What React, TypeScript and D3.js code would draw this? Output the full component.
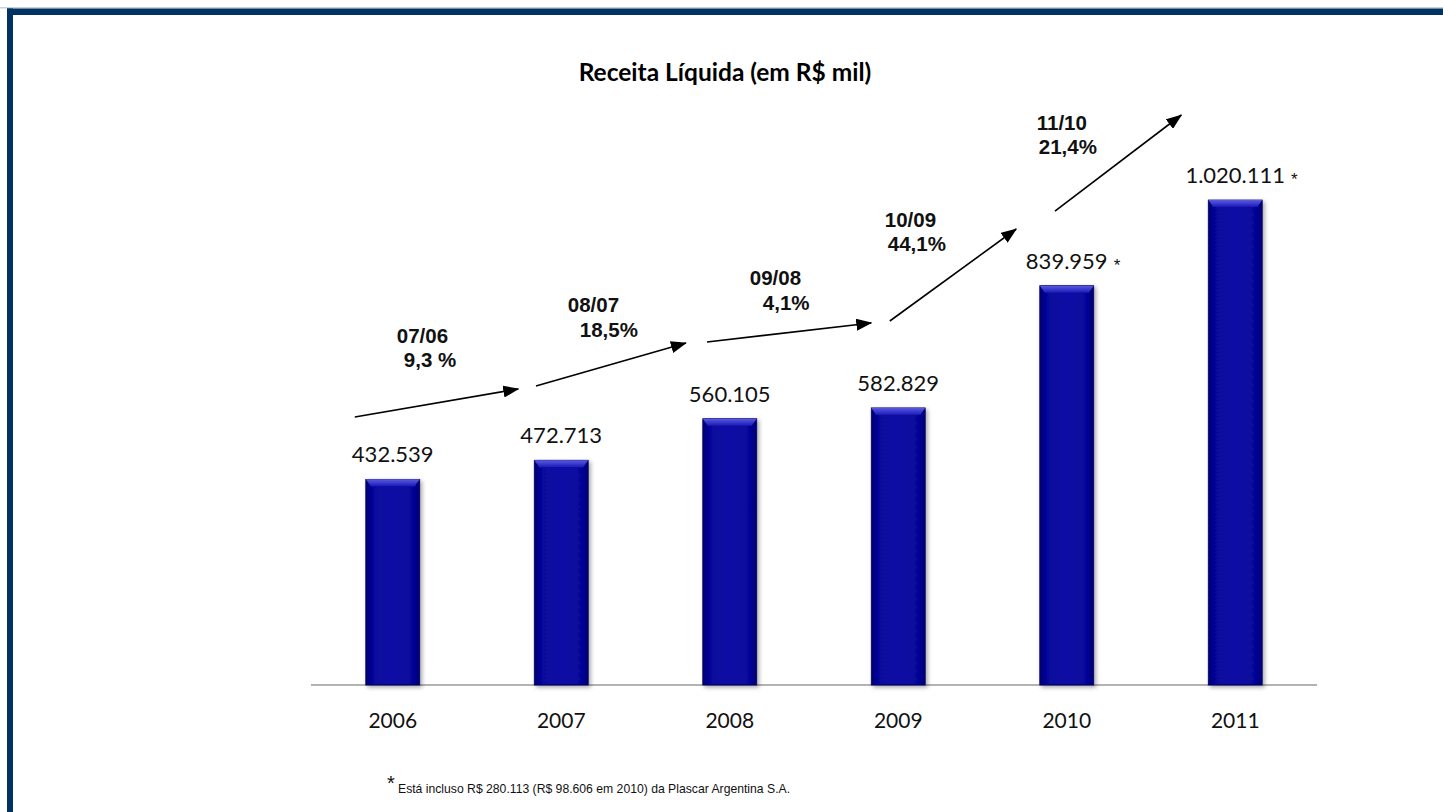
import React, { useEffect, useRef } from "react";
import * as d3 from "d3";

const years = ["2006", "2007", "2008", "2009", "2010", "2011"];
const values = [432539, 472713, 560105, 582829, 839959, 1020111];
const valueLabels = ["432.539", "472.713", "560.105", "582.829", "839.959", "1.020.111"];
const hasStar = [false, false, false, false, true, true];

const growthPeriods = ["07/06", "08/07", "09/08", "10/09", "11/10"];
const growthRates = [" 9,3 %", " 18,5%", " 4,1%", " 44,1%", " 21,4%"];
// arrow endpoints: [bar index, offset in steps, value level]
const arrowStart: [number, number, number][] = [
  [0, -0.225, 563700],
  [1, -0.15, 629000],
  [2, -0.135, 721500],
  [3, -0.05, 765700],
  [4, -0.07, 997000],
];
const arrowEnd: [number, number, number][] = [
  [1, -0.255, 622600],
  [2, -0.26, 719400],
  [3, -0.16, 761500],
  [4, -0.3, 959200],
  [5, -0.32, 1199000],
];
// label anchors: [bar index, offset in steps, value level line1, value level line2, indent]
const labelPos: [number, number, number, number, number][] = [
  [0, 0.024, 719400, 668900, 7],
  [1, 0.039, 784600, 732000, 12],
  [2, 0.119, 841400, 788800, 13],
  [3, -0.08, 963400, 912900, 3],
  [4, -0.178, 1167400, 1116900, 2],
];

const title = "Receita Líquida (em R$ mil)";
const footnote = "Está incluso R$ 280.113 (R$ 98.606 em 2010) da Plascar Argentina S.A.";

export default function App() {
  const ref = useRef<SVGSVGElement>(null);

  useEffect(() => {
    const svg = d3.select(ref.current);
    svg.selectAll("*").remove();

    const W = 1443, H = 812;
    const x = d3.scaleBand<string>().domain(years).range([308.5, 1319.5]).paddingInner(0.68).paddingOuter(0.34);
    const y = d3.scaleLinear().domain([0, 1200000]).range([685, 685 - 1200000 * 0.0004754]);
    const step = x.step();
    const cx = (i: number) => (x(years[i]) as number) + x.bandwidth() / 2;

    const defs = svg.append("defs");
    const g1 = defs.append("linearGradient").attr("id", "barGrad").attr("x1", "0").attr("x2", "1").attr("y1", "0").attr("y2", "0");
    g1.append("stop").attr("offset", "0").attr("stop-color", "#000070");
    g1.append("stop").attr("offset", "0.12").attr("stop-color", "#06069a");
    g1.append("stop").attr("offset", "0.5").attr("stop-color", "#0b0ba6");
    g1.append("stop").attr("offset", "0.88").attr("stop-color", "#06069a");
    g1.append("stop").attr("offset", "1").attr("stop-color", "#000070");
    const g2 = defs.append("linearGradient").attr("id", "topGrad").attr("x1", "0").attr("x2", "0").attr("y1", "0").attr("y2", "1");
    g2.append("stop").attr("offset", "0").attr("stop-color", "#5a5ae0");
    g2.append("stop").attr("offset", "1").attr("stop-color", "#1a1ab8");
    const f = defs.append("filter").attr("id", "shadow").attr("x", "-20%").attr("y", "-5%").attr("width", "150%").attr("height", "115%");
    f.append("feDropShadow").attr("dx", 2).attr("dy", 2).attr("stdDeviation", 2).attr("flood-color", "#000").attr("flood-opacity", 0.35);
    const m = defs.append("marker").attr("id", "arrow").attr("markerUnits", "userSpaceOnUse")
      .attr("viewBox", "0 0 16 12").attr("markerWidth", 16).attr("markerHeight", 12)
      .attr("refX", 15).attr("refY", 6).attr("orient", "auto");
    m.append("path").attr("d", "M0,0 L16,6 L0,12 Z").attr("fill", "#000");

    svg.append("rect").attr("width", W).attr("height", H).attr("fill", "#fff");

    // frame
    svg.append("rect").attr("x", 0).attr("y", 7).attr("width", W).attr("height", 1.5).attr("fill", "#c8d2dc");
    svg.append("rect").attr("x", 7).attr("y", 8.5).attr("width", W - 7).attr("height", 6.5).attr("fill", "#003263");
    svg.append("rect").attr("x", 7).attr("y", 8.5).attr("width", 6).attr("height", H).attr("fill", "#003263");

    // title
    svg.append("text").attr("x", 725).attr("y", 81).attr("text-anchor", "middle")
      .attr("font-family", "Lato, 'Open Sans', sans-serif").attr("font-weight", 700).attr("font-size", 24.5)
      .attr("fill", "#000").text(title);

    // axis line
    svg.append("line").attr("x1", 311).attr("x2", 1317).attr("y1", 685).attr("y2", 685)
      .attr("stroke", "#9a9a9a").attr("stroke-width", 1.5);

    // bars
    const bars = svg.append("g").selectAll("g").data(values).join("g").attr("filter", "url(#shadow)");
    bars.append("rect")
      .attr("x", (_, i) => x(years[i]) as number)
      .attr("y", (d) => y(d))
      .attr("width", x.bandwidth())
      .attr("height", (d) => y(0) - y(d))
      .attr("fill", "url(#barGrad)")
      .attr("stroke", "#00005a").attr("stroke-width", 0.8);
    bars.append("path")
      .attr("d", (d, i) => {
        const x0 = x(years[i]) as number, w = x.bandwidth(), t = y(d);
        return `M${x0},${t} L${x0 + w},${t} L${x0 + w - 5},${t + 7} L${x0 + 5},${t + 7} Z`;
      })
      .attr("fill", "url(#topGrad)");

    // value labels
    values.forEach((v, i) => {
      const t = svg.append("text").attr("x", cx(i)).attr("y", y(v) - 17).attr("text-anchor", "middle")
        .attr("font-family", "Lato, 'Open Sans', sans-serif").attr("font-size", 22).attr("fill", "#111")
        .text(valueLabels[i]);
      if (hasStar[i]) {
        const w = (t.node() as SVGTextElement).getComputedTextLength();
        svg.append("text").attr("x", cx(i) + w / 2 + 6).attr("y", y(v) - 15)
          .attr("font-family", "Liberation Sans, Arial, sans-serif").attr("font-size", 17).attr("fill", "#111").text("*");
      }
    });

    // year labels
    svg.append("g").selectAll("text").data(years).join("text")
      .attr("x", (_, i) => cx(i)).attr("y", 728).attr("text-anchor", "middle")
      .attr("font-family", "Lato, 'Open Sans', sans-serif").attr("font-size", 21).attr("fill", "#111")
      .text((d) => d);

    // growth arrows
    growthPeriods.forEach((_, k) => {
      const s = arrowStart[k], e = arrowEnd[k];
      svg.append("line")
        .attr("x1", cx(s[0]) + s[1] * step).attr("y1", y(s[2]))
        .attr("x2", cx(e[0]) + e[1] * step).attr("y2", y(e[2]))
        .attr("stroke", "#000").attr("stroke-width", 1.6).attr("marker-end", "url(#arrow)");
      const l = labelPos[k];
      const lx = cx(l[0]) + l[1] * step;
      svg.append("text").attr("x", lx).attr("y", y(l[2]))
        .attr("font-family", "Liberation Sans, Arial, sans-serif").attr("font-weight", 700).attr("font-size", 20.5)
        .attr("fill", "#111").text(growthPeriods[k]);
      svg.append("text").attr("x", lx + l[4]).attr("y", y(l[3]))
        .attr("font-family", "Liberation Sans, Arial, sans-serif").attr("font-weight", 700).attr("font-size", 20.5)
        .attr("fill", "#111").text(growthRates[k].trim());
    });

    // footnote
    svg.append("text").attr("x", 387).attr("y", 790)
      .attr("font-family", "Liberation Sans, Arial, sans-serif").attr("font-size", 20).attr("fill", "#111").text("*");
    svg.append("text").attr("x", 398).attr("y", 793)
      .attr("font-family", "Liberation Sans, Arial, sans-serif").attr("font-size", 12.2).attr("fill", "#111").text(footnote);
  }, []);

  return (
    <svg ref={ref} width={1443} height={812}
      style={{ position: "absolute", left: 0, top: 0, display: "block" }} />
  );
}
